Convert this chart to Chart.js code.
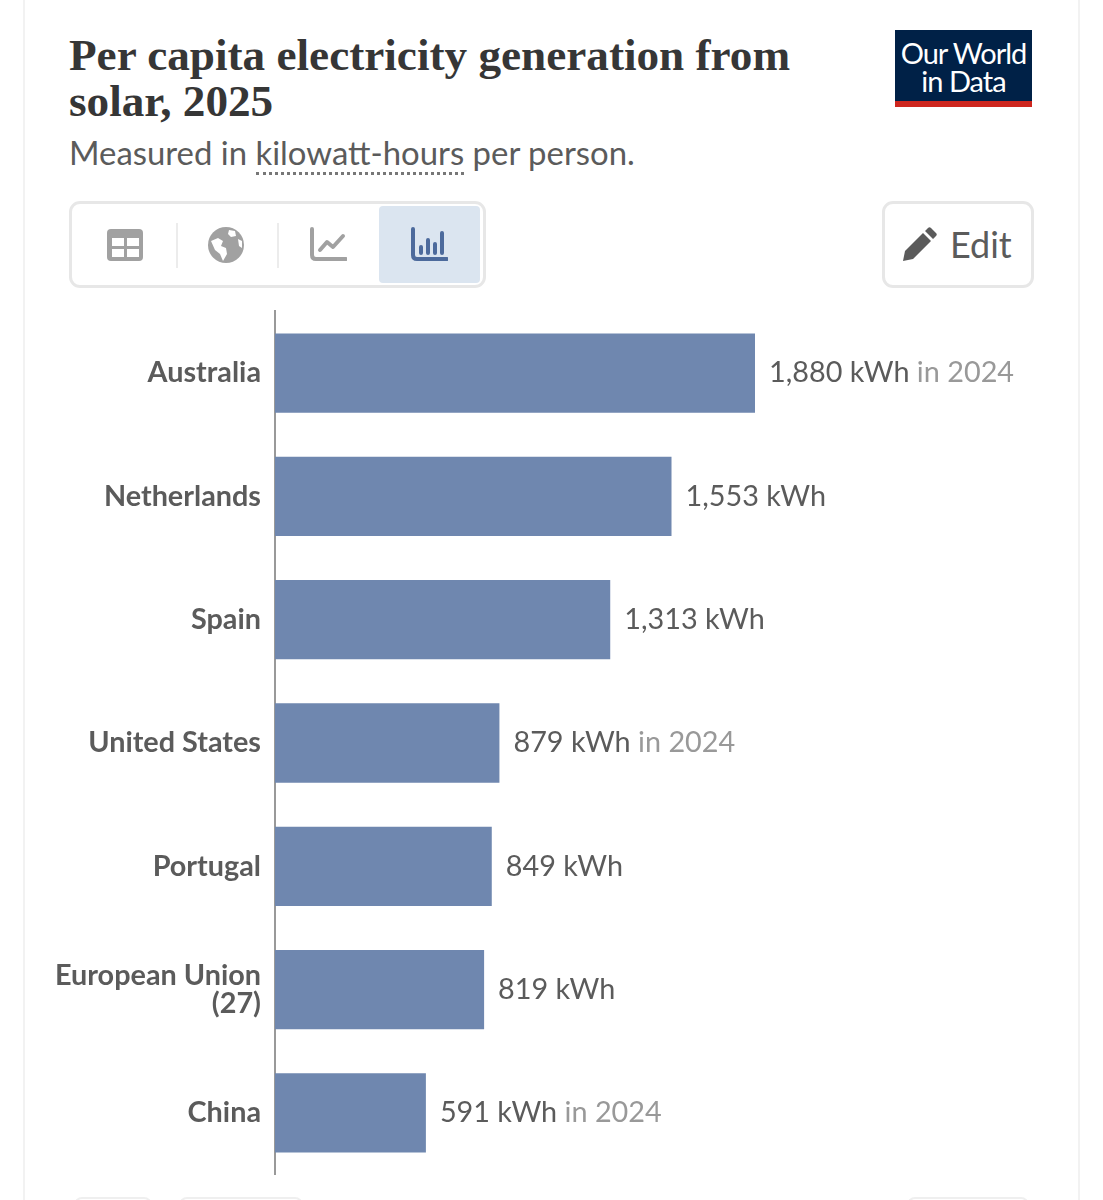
<!DOCTYPE html>
<html>
<head>
<meta charset="utf-8">
<title>Per capita electricity generation from solar, 2025</title>
<script src="https://cdn.jsdelivr.net/npm/chart.js@4"></script>
<style>
  html, body { margin: 0; padding: 0; background: #fff; }
  #page { position: relative; width: 1103px; height: 1200px; overflow: hidden; font-family: Lato, sans-serif; color: #5b5b5b; }
  #page > * { position: absolute; box-sizing: border-box; }
  .edge { top: -5px; width: 2px; height: 1210px; background: #f2f2f2; }
  #title { left: 69px; top: 32px; margin: 0; width: 790px; font: bold 45.2px/46px "Liberation Serif", serif; color: #363636; }
  #subtitle { left: 69px; top: 134px; font-size: 32.9px; line-height: 38px; white-space: nowrap; }
  #subtitle span { border-bottom: 3px dotted #777; }
  #logo { left: 895px; top: 30px; width: 137px; height: 77px; background: #002147; border-bottom: 6px solid #ce261e; color: #fff; text-align: center; font-size: 29px; line-height: 28px; padding-top: 9px; letter-spacing: -1px; }
  #tabs { left: 69px; top: 201px; width: 417px; height: 87px; border: 3px solid #e7e7e7; border-radius: 11px; }
  #tabs div { position: absolute; }
  .sep { top: 19px; width: 2px; height: 45px; background: #ececec; }
  #active { left: 307px; top: 2px; width: 101px; height: 77px; background: #dbe5f0; border-radius: 4px; }
  #tabs svg { position: absolute; top: 22px; width: 38px; height: 38px; }
  #edit { left: 882px; top: 201px; width: 152px; height: 87px; border: 3px solid #e7e7e7; border-radius: 11px; font-size: 36px; line-height: 81px; padding-left: 65px; }
  #edit svg { position: absolute; left: 17px; top: 23px; width: 35px; height: 35px; }
  .stub { top: 1197px; height: 20px; border: 2px solid #efefef; border-radius: 8px; }
  /* the y scale keeps about 27px free above and below its ticks, so the canvas is that much taller */
  #chart { left: 0; top: 283px; }
</style>
</head>
<body>
<div id="page">
  <div class="edge" style="left:23px"></div>
  <div class="edge" style="left:1078px"></div>
  <h1 id="title">Per capita electricity generation from solar, 2025</h1>
  <div id="subtitle">Measured in <span>kilowatt-hours</span> per person.</div>
  <div id="logo">Our World<br>in Data</div>
  <div id="tabs">
    <div class="sep" style="left:104px"></div>
    <div class="sep" style="left:205px"></div>
    <div id="active"></div>
    <svg style="left:34px" viewBox="0 0 38 38"><rect x="1" y="3" width="36" height="32" rx="4" fill="#a1a1a1"/><rect x="6" y="12" width="12" height="8" fill="#fff"/><rect x="21" y="12" width="12" height="8" fill="#fff"/><rect x="6" y="23" width="12" height="8" fill="#fff"/><rect x="21" y="23" width="12" height="8" fill="#fff"/></svg>
    <svg style="left:135px" viewBox="0 0 38 38"><circle cx="19" cy="19" r="18" fill="#a1a1a1"/><path d="M4 15l7-3 5 3-2 5 5 2 1 6-4 7-3-7-5-4zM22 4l6 1 1 5-5 1-3-3zM31 13l4 2 0 7-3-2z" fill="#fff"/></svg>
    <svg style="left:237px" viewBox="0 0 38 38"><path d="M3 3v26q0 4 4 4h30" fill="none" stroke="#a1a1a1" stroke-width="4" stroke-linecap="round"/><path d="M11 24l7-8 6 5 10-11" fill="none" stroke="#a1a1a1" stroke-width="4" stroke-linecap="round" stroke-linejoin="round"/></svg>
    <svg style="left:338px" viewBox="0 0 38 38"><path d="M3 3v26q0 4 4 4h30" fill="none" stroke="#4c6a9c" stroke-width="4" stroke-linecap="round"/><path d="M11 21v6M18 14v13M25 18v9M32 7v20" fill="none" stroke="#4c6a9c" stroke-width="4" stroke-linecap="round"/></svg>
  </div>
  <div id="edit">
    <svg viewBox="0 0 35 35"><path d="M1 34l2-10L21 6l8 8-18 18zM23 4l3-3c1-1 2-1 3 0l5 5c1 1 1 2 0 3l-3 3z" fill="#5b5b5b"/></svg>
    Edit
  </div>
  <div class="stub" style="left:74px;width:78px"></div>
  <div class="stub" style="left:179px;width:124px"></div>
  <div class="stub" style="left:907px;width:122px"></div>
  <canvas id="chart" width="1103" height="920"></canvas>
</div>
<script>
const countries = ['Australia', 'Netherlands', 'Spain', 'United States', 'Portugal', ['European Union', '(27)'], 'China'];
const kwhPerPerson = [1880, 1553, 1313, 879, 849, 819, 591];
const dataYears = ['2024', null, null, '2024', null, null, '2024'];

// value text at the end of each bar, older years in lighter grey
const barLabels = {
  id: 'barLabels',
  afterDatasetsDraw(chart) {
    const ctx = chart.ctx;
    ctx.save();
    ctx.font = '28.8px Lato';
    ctx.textBaseline = 'middle';
    chart.getDatasetMeta(0).data.forEach((bar, i) => {
      const text = kwhPerPerson[i].toLocaleString('en-US') + ' kWh';
      const x = bar.x + 14;
      ctx.fillStyle = '#5b5b5b';
      ctx.fillText(text, x, bar.y);
      if (dataYears[i]) {
        ctx.fillStyle = '#999';
        ctx.fillText(' in ' + dataYears[i], x + ctx.measureText(text).width, bar.y);
      }
    });
    ctx.restore();
  }
};

new Chart(document.getElementById('chart'), {
  type: 'bar',
  data: {
    labels: countries,
    datasets: [{
      data: kwhPerPerson,
      backgroundColor: '#6f87af',
      barPercentage: 0.643,
      categoryPercentage: 1
    }]
  },
  options: {
    indexAxis: 'y',
    responsive: false,
    animation: false,
    layout: { padding: 0 },
    plugins: { legend: { display: false }, tooltip: { enabled: false } },
    scales: {
      x: { display: false, min: 0, max: 3243 },
      y: {
        afterFit(axis) { axis.width = 275; },
        grid: { display: false, drawTicks: false },
        border: { display: true, color: '#999', width: 2 },
        ticks: {
          autoSkip: false,
          padding: 14,
          color: '#5b5b5b',
          font: { family: 'Lato', size: 28.8, weight: 'bold', lineHeight: 1 }
        }
      }
    }
  },
  plugins: [barLabels]
});
</script>
</body>
</html>
